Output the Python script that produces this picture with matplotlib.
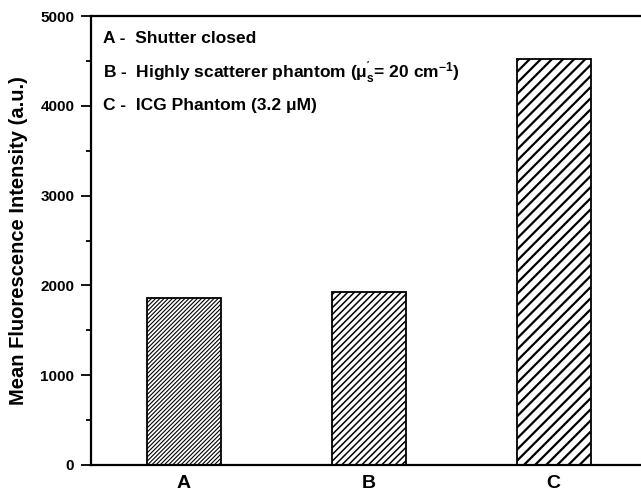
import matplotlib.pyplot as plt
from matplotlib.ticker import MultipleLocator

categories = ["A", "B", "C"]
intensity = [1860, 1925, 4520]
hatches = ["////////", "/////", "///"]
hatch_widths = [0.8, 1.1, 1.6]
legend_lines = [
    "A -  Shutter closed",
    r"B -  Highly scatterer phantom ($\mathregular{\mu_s^{'}}$= 20 cm$\mathregular{^{-1}}$)",
    "C -  ICG Phantom (3.2 μM)",
]

plt.rcParams["font.family"] = ["Liberation Sans", "DejaVu Sans"]
plt.rcParams["font.weight"] = "bold"
plt.rcParams["hatch.linewidth"] = 1.2

fig = plt.figure(figsize=(6.41, 4.91), dpi=100)
ax = fig.add_axes([0.142, 0.053, 0.866, 0.914])

x = [1, 2, 3]
bars = ax.bar(x, intensity, width=0.4, color="white", edgecolor="black", linewidth=1.3)
for b, h, hw in zip(bars, hatches, hatch_widths):
    b.set_hatch(h)
    if hasattr(b, "set_hatch_linewidth"):
        b.set_hatch_linewidth(hw)

ax.set_xlim(0.5, 3.5)
ax.set_ylim(0, 5000)
ax.set_xticks(x)
ax.set_xticklabels(categories, fontsize=14, fontweight="bold")
ax.yaxis.set_major_locator(MultipleLocator(1000))
ax.yaxis.set_minor_locator(MultipleLocator(500))
ax.tick_params(axis="y", which="major", length=7, width=1.3, labelsize=11, pad=5)
ax.tick_params(axis="y", which="minor", length=3.5, width=1.3)
ax.tick_params(axis="x", length=0, pad=7)
for lab in ax.get_yticklabels():
    lab.set_fontweight("bold")
for s in ax.spines.values():
    s.set_linewidth(1.6)

ax.set_ylabel("Mean Fluorescence Intensity (a.u.)", fontsize=14.5, fontweight="bold", labelpad=9)

for i, t in enumerate(legend_lines):
    ax.text(0.022, 0.95 - i * 0.074, t, transform=ax.transAxes, fontsize=12.5,
            fontweight="bold", va="center", ha="left")

fig.savefig("out.png", dpi=100)
